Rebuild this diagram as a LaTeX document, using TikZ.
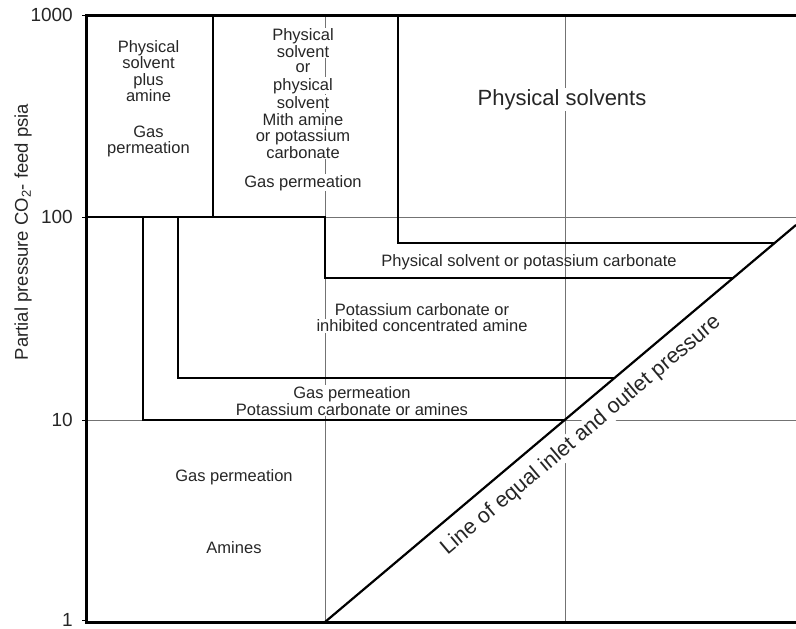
\documentclass[tikz,border=0pt]{standalone}
\usepackage{fontspec}
\setmainfont{Liberation Sans}
\begin{document}
\begin{tikzpicture}[x=1pt,y=-1pt,
  gridline/.style={black!55, line width=0.8pt},
  framel/.style={black, line width=3pt, line join=miter},
  bnd/.style={black, line width=2.2pt, line join=miter},
  thinbnd/.style={black, line width=1.5pt, line join=miter},
  txt/.style={font=\fontsize{16.5}{16.7}\selectfont, text=black!85, inner sep=1pt},
  wtxt/.style={txt, fill=white},
  ticklbl/.style={font=\fontsize{19}{19}\selectfont, text=black!85, anchor=east, inner sep=0pt},
  bigtxt/.style={font=\fontsize{22}{22}\selectfont, text=black!85, fill=white, inner sep=1pt}
]
\useasboundingbox (0,0) rectangle (796,629);
\clip (0,0) rectangle (796,629);

% grid lines
\draw[gridline] (325,15) -- (325,622);
\draw[gridline] (565,15) -- (565,622);
\draw[gridline] (86,217) -- (796,217);
\draw[gridline] (86,420) -- (796,420);

% tick marks and labels
\foreach \yy/\lab [count=\i] in {15/1000, 217/100, 420/10, 620/1} {
  \draw[black, line width=1pt] (82,\yy) -- (86,\yy);
  \node[ticklbl] (tick\i) at (73,\yy) {\lab};
}
\node[rotate=90, font=\fontsize{18.5}{18.5}\selectfont, text=black!85] (ylab) at (23,232)
  {Partial pressure CO\textsubscript{2}- feed psia};

% region labels
\foreach \t/\yy [count=\i] in {Physical/52, solvent/68, plus/85, amine/101.5, Gas/137, permeation/153}
  \node[txt, anchor=base] (la\i) at (148.5,\yy) {\t};
\foreach \t/\yy [count=\i] in {Physical/41, solvent/57, or/72, physical/90, solvent/108,
    Mith amine/125, or potassium/141.5, carbonate/158, Gas permeation/187}
  \node[wtxt, anchor=base] (lb\i) at (303,\yy) {\t};
\node[bigtxt, anchor=base] (physolv) at (562,105) {Physical solvents};
\node[txt, anchor=base] (pspc) at (529,266) {Physical solvent or potassium carbonate};
\node[wtxt, anchor=base] (pc1) at (422,315) {Potassium carbonate or};
\node[wtxt, anchor=base] (pc2) at (422,331.5) {inhibited concentrated amine};
\node[wtxt, anchor=base] (gp1) at (352,398) {Gas permeation};
\node[wtxt, anchor=base] (gp2) at (352,415) {Potassium carbonate or amines};
\node[txt, anchor=base] (gp3) at (234,481.5) {Gas permeation};
\node[txt, anchor=base] (am) at (234,553) {Amines};

% diagonal label
\node[rotate=40.13, font=\fontsize{21.5}{21.5}\selectfont, text=black!85, fill=white, inner sep=1pt]
  (diaglab) at (581,435.5) {Line of equal inlet and outlet pressure};

% region boundaries
\draw[thinbnd] (213,15) -- (213,217);
\draw[thinbnd] (86,217) -- (325,217) -- (325,278) -- (733.1,278);
\draw[bnd] (398,15) -- (398,243) -- (774.6,243);
\draw[bnd] (143,217) -- (143,420) -- (564.7,420);
\draw[bnd] (178,217) -- (178,378) -- (614.5,378);

% line of equal inlet and outlet pressure
\coordinate (d0) at (325,622);
\coordinate (d1) at (796,225);
\draw[bnd] (d0) -- (d1);

% frame
\draw[framel] (800,15) -- (86,15) -- (86,622) -- (800,622);
\end{tikzpicture}
\end{document}
